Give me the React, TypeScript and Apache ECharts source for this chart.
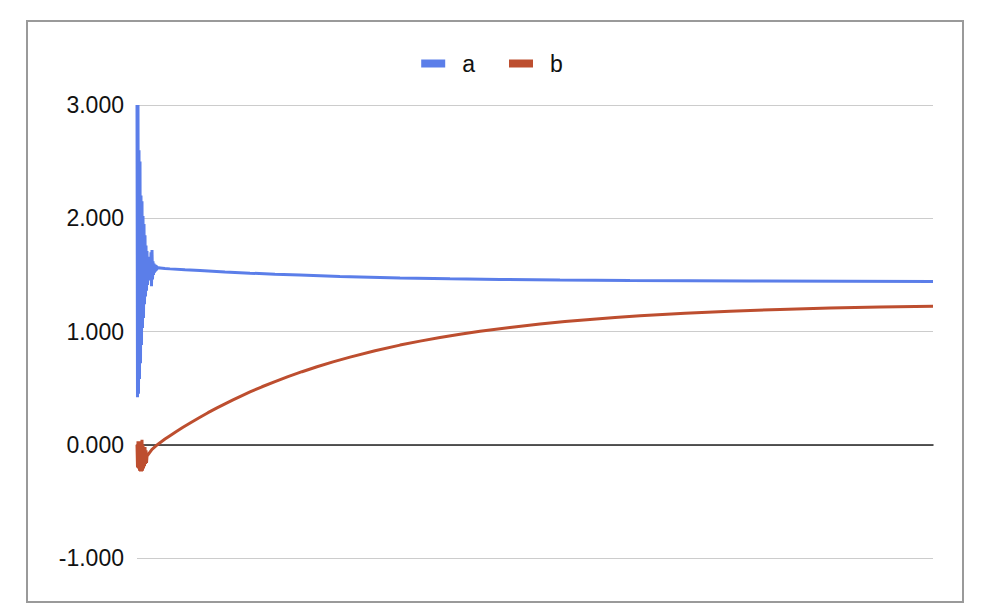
import React, { useEffect, useRef } from "react";
import * as echarts from "echarts";

// x positions are pixel-like offsets along the horizontal run (0 .. 796)
const X_MAX = 796;

// Series "a": dense oscillation at the start (x = 0 .. 23, step 0.5), then smooth decay
const A_OSC_STEP = 0.5;
const aOsc = [
  3.0, 0.42, 3.0, 0.45, 2.6, 0.58, 2.5, 0.72, 2.2, 0.88, 2.15, 1.03, 2.02, 1.12,
  1.95, 1.24, 1.85, 1.31, 1.76, 1.36, 1.71, 1.41, 1.66, 1.45, 1.64, 1.47, 1.62,
  1.45, 1.7, 1.4, 1.72, 1.46, 1.62, 1.5, 1.6, 1.52, 1.59, 1.53, 1.585, 1.54,
  1.575, 1.55, 1.568, 1.555, 1.563, 1.559, 1.56,
];
const aTrendX = [28, 33, 48, 63, 88, 113, 138, 163, 203, 233, 263, 313, 363, 423, 493, 613, 796];
const aTrendY = [
  1.556, 1.553, 1.545, 1.538, 1.526, 1.515, 1.506, 1.498, 1.486, 1.479, 1.472,
  1.465, 1.46, 1.455, 1.451, 1.446, 1.442,
];

// Series "b": oscillation at the start (x = 0 .. 10, step 0.5), then rising curve
const B_OSC_STEP = 0.5;
const bOsc = [
  0.0, -0.2, 0.03, -0.21, 0.02, -0.23, 0.01, -0.235, 0.03, -0.235, 0.044, -0.23,
  0.0, -0.21, -0.03, -0.19, -0.02, -0.17, -0.05, -0.16, -0.1,
];
const bTrendX = [
  15, 21, 28, 33, 39, 46, 54, 63, 71, 80, 88, 96, 104, 113, 125, 138, 151, 165,
  180, 196, 213, 238, 263, 283, 303, 323, 343, 373, 403, 428, 453, 478, 503, 548,
  593, 643, 693, 743, 796,
];
const bTrendY = [
  -0.04, 0.005, 0.05, 0.08, 0.115, 0.154, 0.197, 0.243, 0.283, 0.325, 0.361,
  0.396, 0.43, 0.466, 0.512, 0.558, 0.602, 0.645, 0.689, 0.732, 0.774, 0.83,
  0.88, 0.915, 0.947, 0.976, 1.002, 1.036, 1.066, 1.088, 1.107, 1.124, 1.138,
  1.161, 1.179, 1.195, 1.207, 1.216, 1.224,
];

// Y axis
const Y_MIN = -1;
const Y_MAX = 3;
const Y_STEP = 1;

const BLUE = "#5b7ee9";
const RED = "#bd4e2f";

function buildA(): [number, number][] {
  const pts: [number, number][] = aOsc.map((v, i) => [i * A_OSC_STEP, v]);
  aTrendX.forEach((x, i) => pts.push([x, aTrendY[i]]));
  return pts;
}
function buildB(): [number, number][] {
  const pts: [number, number][] = bOsc.map((v, i) => [i * B_OSC_STEP, v]);
  bTrendX.forEach((x, i) => pts.push([x, bTrendY[i]]));
  return pts;
}

export default function App() {
  const ref = useRef<HTMLDivElement>(null);
  useEffect(() => {
    document.body.style.margin = "0";
    if (!ref.current) return;
    const chart = echarts.init(ref.current, undefined, { renderer: "svg" });
    const font = "'Liberation Sans', Arial, sans-serif";
    chart.setOption({
      animation: false,
      backgroundColor: "#ffffff",
      graphic: [
        {
          type: "rect",
          shape: { x: 27, y: 21, width: 936, height: 581 },
          style: { fill: "none", stroke: "#9a9a9a", lineWidth: 2 },
          z: -1,
        },
      ],
      legend: {
        data: ["a", "b"],
        top: 47,
        left: "center",
        icon: "rect",
        itemWidth: 24,
        itemHeight: 8,
        itemGap: 34,
        textStyle: { fontSize: 23, color: "#111", fontFamily: font, padding: [0, 0, 0, 12] },
      },
      grid: { left: 137, right: 51, top: 105, bottom: 58, containLabel: false },
      xAxis: {
        type: "value",
        min: 0,
        max: X_MAX,
        axisLabel: { show: false },
        axisTick: { show: false },
        splitLine: { show: false },
        axisLine: { show: true, onZero: true, lineStyle: { color: "#222", width: 1.5 } },
      },
      yAxis: {
        type: "value",
        min: Y_MIN,
        max: Y_MAX,
        interval: Y_STEP,
        axisLine: { show: false },
        axisTick: { show: false },
        axisLabel: {
          fontSize: 23,
          color: "#111",
          fontFamily: font,
          margin: 13,
          formatter: (v: number) => v.toFixed(3),
        },
        splitLine: { show: true, lineStyle: { color: "#cccccc", width: 1 } },
      },
      series: [
        {
          name: "a",
          type: "line",
          data: buildA(),
          showSymbol: false,
          symbol: "none",
          lineStyle: { color: BLUE, width: 3 },
          itemStyle: { color: BLUE },
          z: 3,
        },
        {
          name: "b",
          type: "line",
          data: buildB(),
          showSymbol: false,
          symbol: "none",
          lineStyle: { color: RED, width: 3 },
          itemStyle: { color: RED },
          z: 4,
        },
      ],
    });
    return () => chart.dispose();
  }, []);
  return <div ref={ref} style={{ width: 984, height: 616 }} />;
}
